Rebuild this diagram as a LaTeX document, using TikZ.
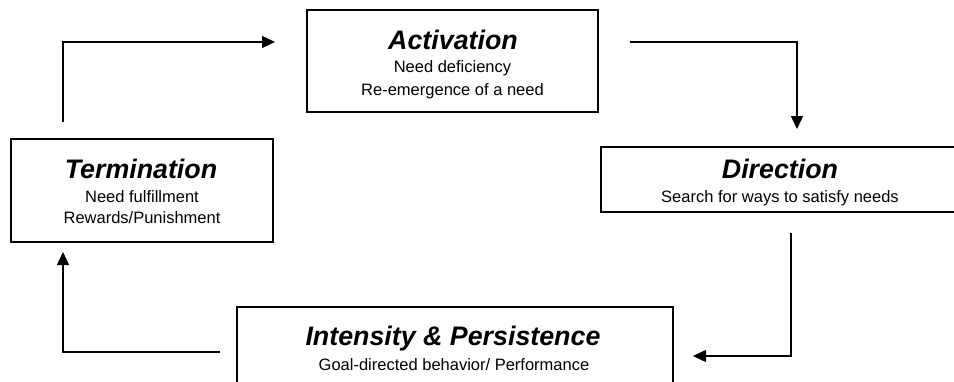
\documentclass[tikz,border=0pt]{standalone}
\usepackage{fontspec}
\setmainfont{Liberation Sans}
\usetikzlibrary{arrows.meta}
\tikzset{
  box/.style={draw=black, line width=1.8pt, fill=white, inner sep=0pt},
  ttl/.style={anchor=base, inner sep=0pt, font=\fontsize{26.8}{30}\selectfont\bfseries\itshape},
  sub/.style={anchor=base, inner sep=0pt, font=\fontsize{16.5}{20}\selectfont},
  arr/.style={draw=black, line width=1.4pt, -{Triangle[length=13pt,width=12pt]}}
}
\begin{document}
\begin{tikzpicture}[x=1pt,y=-1pt]
\useasboundingbox (0,0) rectangle (954,381);
\clip (0,0) rectangle (954,381);
\fill[white] (0,0) rectangle (954,381);
% boxes
\node[box, minimum width=291pt, minimum height=102pt] (act) at (452.5,61) {};
\node[box, minimum width=262pt, minimum height=103pt] (term) at (142,190.5) {};
\node[box, minimum width=359pt, minimum height=65pt] (dir) at (780.5,179.5) {};
\node[box, minimum width=436pt, minimum height=108pt] (int) at (455,361) {};
% texts
\node[ttl] (actT) at (453,49) {Activation};
\node[sub] (actA) at (452.5,72) {Need deficiency};
\node[sub] (actB) at (452.5,95) {Re-emergence of a need};
\node[ttl] (termT) at (141,178) {Termination};
\node[sub] (termA) at (142,202) {Need fulfillment};
\node[sub] (termB) at (142,223) {Rewards/Punishment};
\node[ttl] (dirT) at (780,178) {Direction};
\node[sub] (dirA) at (780,202) {Search for ways to satisfy needs};
\node[ttl] (intT) at (453,345) {Intensity \& Persistence};
\node[sub] (intA) at (454,370) {Goal-directed behavior/ Performance};
% connector ends
\coordinate (a1) at (63,122);
\coordinate (a2) at (275,42);
\coordinate (b1) at (630,42);
\coordinate (b2) at (797,129);
\coordinate (c1) at (791,233);
\coordinate (c2) at (693,356);
\coordinate (d1) at (220,352);
\coordinate (d2) at (63,252);
\draw[arr] (a1) |- (a2);
\draw[arr] (b1) -| (b2);
\draw[arr] (c1) |- (c2);
\draw[arr] (d1) -| (d2);
\end{tikzpicture}
\end{document}
